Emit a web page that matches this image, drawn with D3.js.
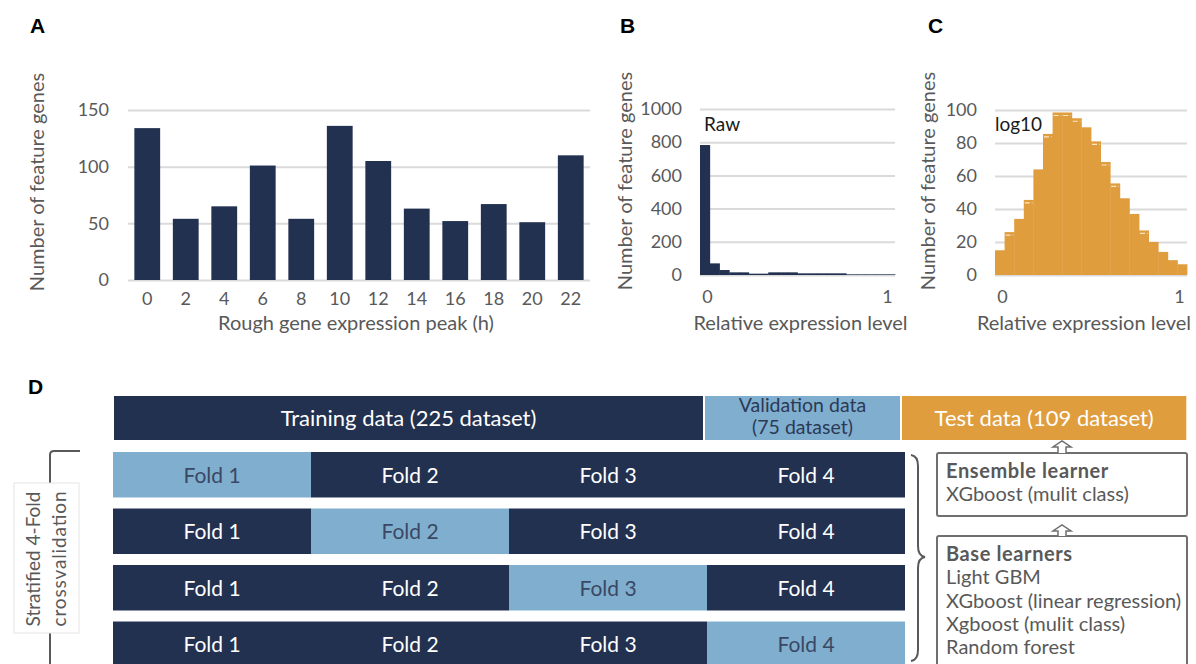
<!DOCTYPE html>
<html>
<head>
<meta charset="utf-8">
<script src="https://cdn.jsdelivr.net/npm/d3@7/dist/d3.min.js"></script>
<style>
    html, body { margin: 0; padding: 0; background: #fff; }
    svg { display: block; font-family: Lato, "Noto Sans", sans-serif; }
    .tick text { fill: #595959; font-size: 18px; font-family: Lato, "Noto Sans", sans-serif; }
    .axis-title { fill: #595959; font-size: 20px; }
    .panel-label { font-family: "Liberation Sans", Arial, sans-serif; font-weight: bold; font-size: 21px; fill: #000; }
</style>
</head>
<body>
<svg id="chart" width="1196" height="664"></svg>
<script>
// --- Data ---
const peakHours = ["0", "2", "4", "6", "8", "10", "12", "14", "16", "18", "20", "22"];
const peakCounts = [134, 54, 65, 101, 54, 136, 105, 63, 52, 67, 51, 110];
const peakTicks = [0, 50, 100, 150];

// 20 bins over relative expression level 0..1
const rawCounts = [783, 70, 30, 16, 16, 8, 8, 16, 16, 16, 10, 10, 10, 10, 10, 4, 4, 4, 4, 4];
const rawTicks = [0, 200, 400, 600, 800, 1000];
const logCounts = [15, 26, 34, 45.5, 64, 85.5, 98.5, 98.5, 95, 89.5, 81, 68.5, 55.5, 46.5, 37, 27, 20, 14, 9, 6.5];
const logTicks = [0, 20, 40, 60, 80, 100];
const logDashedBins = [1, 3, 5, 6, 7, 8, 10, 11, 12, 15];
const levelTicks = [0, 1];

const splitLabels = [["Training data (225 dataset)"], ["Validation data", "(75 dataset)"], ["Test data (109 dataset)"]];
const splitSizes = [225, 75, 109];
const foldNames = ["Fold 1", "Fold 2", "Fold 3", "Fold 4"];
const cvLabel = ["Stratified 4-Fold", "crossvalidation"];
const ensembleLines = ["Ensemble learner", "XGboost (mulit class)"];
const baseLines = ["Base learners", "Light GBM", "XGboost (linear regression)", "Xgboost (mulit class)", "Random forest"];

const NAVY = "#22314f", LIGHT = "#80aecf", ORANGE = "#e09d3e", GRAY = "#595959", GRID = "#dadada";

const svg = d3.select("#chart");

function styleGrid(g) {
    g.select(".domain").remove();
    g.selectAll(".tick line").attr("stroke", GRID).attr("stroke-width", 2);
}

// --- 1. Panel A: expression peak bars ---
const xA = d3.scaleBand().domain(peakHours).range([128, 590]).paddingInner(0.33).paddingOuter(0.165);
const yA = d3.scaleLinear().domain([0, 150]).range([280, 110]);

svg.append("g").attr("transform", "translate(128,0)")
    .call(d3.axisLeft(yA).tickValues(peakTicks).tickSize(-462).tickPadding(19))
    .call(styleGrid);

svg.append("g").selectAll("rect").data(peakCounts).join("rect")
    .attr("x", (d, i) => xA(peakHours[i])).attr("y", d => yA(d))
    .attr("width", xA.bandwidth()).attr("height", d => yA(0) - yA(d))
    .attr("fill", NAVY);

svg.append("g").attr("transform", "translate(0,280)")
    .call(d3.axisBottom(xA).tickSize(0).tickPadding(12))
    .call(g => g.select(".domain").remove());

svg.append("text").attr("class", "axis-title").attr("text-anchor", "middle")
    .attr("transform", "translate(44,182) rotate(-90)").text("Number of feature genes");
svg.append("text").attr("class", "axis-title").attr("text-anchor", "middle")
    .attr("x", 356).attr("y", 330).text("Rough gene expression peak (h)");

// --- 2. Panels B & C: histograms ---
function histogram(opts) {
    const x = d3.scaleBand().domain(d3.range(opts.counts.length)).range(opts.range).padding(0);
    const y = d3.scaleLinear().domain([0, d3.max(opts.ticks)]).range([275, opts.top]);
    const xl = d3.scaleLinear().domain([0, 1]).range([opts.range[0] + 7, opts.range[1] - 8]);
    const w = opts.range[1] - opts.range[0];

    svg.append("g").attr("transform", `translate(${opts.range[0]},0)`)
        .call(d3.axisLeft(y).tickValues(opts.ticks).tickFormat(d3.format("d")).tickSize(-w).tickPadding(18))
        .call(styleGrid);

    svg.append("g").selectAll("rect").data(opts.counts).join("rect")
        .attr("x", (d, i) => x(i)).attr("y", d => y(d))
        .attr("width", x.bandwidth() + 0.4).attr("height", d => y(0) - y(d))
        .attr("fill", opts.color);

    if (opts.dashed) {
        svg.append("g").selectAll("line").data(opts.dashed).join("line")
            .attr("x1", i => x(i) + 1).attr("x2", i => x(i) + x.bandwidth() - 1)
            .attr("y1", i => y(opts.counts[i]) + 3).attr("y2", i => y(opts.counts[i]) + 3)
            .attr("stroke", "#fbe6c8").attr("stroke-width", 1.2).attr("stroke-dasharray", "5,2");
    }

    svg.append("g").attr("transform", "translate(0,275)")
        .call(d3.axisBottom(xl).tickValues(levelTicks).tickFormat(d3.format("d")).tickSize(0).tickPadding(15))
        .call(g => g.select(".domain").remove());

    svg.append("text").attr("class", "axis-title").attr("text-anchor", "middle")
        .attr("transform", `translate(${opts.titleX},181) rotate(-90)`).text("Number of feature genes");
    svg.append("text").attr("class", "axis-title").attr("text-anchor", "middle")
        .attr("x", (opts.range[0] + opts.range[1]) / 2 + opts.xTitleShift).attr("y", 330)
        .text("Relative expression level");
    svg.append("text").attr("x", opts.range[0] + opts.tagShift).attr("y", 131)
        .attr("font-size", 19).attr("fill", "#1a1a1a").text(opts.tag);
}

histogram({ counts: rawCounts, ticks: rawTicks, range: [700, 895], top: 109, color: NAVY,
            titleX: 632, xTitleShift: 3, tag: "Raw", tagShift: 4 });
histogram({ counts: logCounts, ticks: logTicks, range: [995, 1187], top: 110, color: ORANGE,
            dashed: logDashedBins, titleX: 935, xTitleShift: -7, tag: "log10", tagShift: 0 });

// --- 3. Panel D: data split & cross validation ---
const xSplit = d3.scaleLinear().domain([0, 300]).range([113, 901]);
const splitStart = d3.cumsum([0, ...splitSizes]);
const splitFill = [NAVY, LIGHT, ORANGE];
const splitText = ["#fff", "#2b3a55", "#fff"];

const splitG = svg.append("g");
splitSizes.forEach((s, i) => {
    const x0 = xSplit(splitStart[i]), x1 = xSplit(splitStart[i] + s);
    splitG.append("rect").attr("x", x0 + 1).attr("y", 396).attr("width", x1 - x0 - 2).attr("height", 44)
        .attr("fill", splitFill[i]);
    const lines = splitLabels[i];
    const two = lines.length > 1;
    lines.forEach((t, j) => {
        splitG.append("text").attr("x", (x0 + x1) / 2)
            .attr("y", two ? 412 + j * 22 : 426)
            .attr("text-anchor", "middle").attr("font-size", two ? 19.5 : 22)
            .attr("fill", splitText[i]).text(t);
    });
});

const xFold = d3.scaleBand().domain(foldNames).range([113, 905]).padding(0);
const yRow = d3.scaleBand().domain(d3.range(foldNames.length)).range([452, 667]).paddingInner(0.195);

const rows = svg.append("g").selectAll("g").data(d3.range(foldNames.length)).join("g")
    .attr("transform", r => `translate(0,${yRow(r)})`);
rows.selectAll("rect").data(r => foldNames.map((f, i) => ({ f, on: i === r }))).join("rect")
    .attr("x", d => xFold(d.f)).attr("width", xFold.bandwidth()).attr("height", yRow.bandwidth())
    .attr("fill", d => d.on ? LIGHT : NAVY);
rows.selectAll("text").data(r => foldNames.map((f, i) => ({ f, on: i === r }))).join("text")
    .attr("x", d => xFold(d.f) + xFold.bandwidth() / 2).attr("y", yRow.bandwidth() / 2 + 8)
    .attr("text-anchor", "middle").attr("font-size", 21)
    .attr("fill", d => d.on ? "#3a4864" : "#fff").text(d => d.f);

// left bracket + label box
svg.append("path").attr("d", "M80,451 H54 Q50,451 50,455 V664")
    .attr("fill", "none").attr("stroke", GRAY).attr("stroke-width", 2);
svg.append("rect").attr("x", 14).attr("y", 483).attr("width", 65).attr("height", 150)
    .attr("fill", "#fff").attr("stroke", "#e4e4e4").attr("stroke-width", 1);
cvLabel.forEach((t, j) => {
    svg.append("text").attr("text-anchor", "middle").attr("font-size", 19).attr("fill", GRAY)
        .attr("transform", `translate(${40 + j * 26},559) rotate(-90)`)
        .attr("textLength", 135).attr("lengthAdjust", "spacing").text(t);
});

// right brace
svg.append("path")
    .attr("d", "M911,455 Q918,456 918,466 V546 Q918,556 925,557 Q918,558 918,568 V650 Q918,660 911,661")
    .attr("fill", "none").attr("stroke", GRAY).attr("stroke-width", 2);

// learner boxes
function upArrow(cx, y0, y1) {
    return `M${cx - 4},${y0} V${y1 + 6} H${cx - 9} L${cx},${y1} L${cx + 9},${y1 + 6} H${cx + 4} V${y0}`;
}
function learnerBox(y, h, lines) {
    svg.append("rect").attr("x", 937).attr("y", y).attr("width", 250).attr("height", h).attr("rx", 2)
        .attr("fill", "#fff").attr("stroke", "#6f6f6f").attr("stroke-width", 2);
    lines.forEach((t, j) => {
        svg.append("text").attr("x", 946).attr("y", y + 25 + j * 23.3)
            .attr("font-size", 20).attr("font-weight", j === 0 ? "bold" : "normal")
            .attr("letter-spacing", j === 0 ? 0.6 : 0)
            .attr("fill", GRAY).text(t);
    });
}
learnerBox(453, 63, ensembleLines);
learnerBox(536, 140, baseLines);
svg.append("path").attr("d", upArrow(1062, 453, 441)).attr("fill", "#fff").attr("stroke", "#6f6f6f").attr("stroke-width", 1.5);
svg.append("path").attr("d", upArrow(1062, 536, 525)).attr("fill", "#fff").attr("stroke", "#6f6f6f").attr("stroke-width", 1.5);

// --- 4. Panel letters ---
[["A", 30, 33], ["B", 620, 33], ["C", 928, 33], ["D", 28, 394]].forEach(([t, x, y]) => {
    svg.append("text").attr("class", "panel-label").attr("x", x).attr("y", y).text(t);
});
</script>
</body>
</html>
